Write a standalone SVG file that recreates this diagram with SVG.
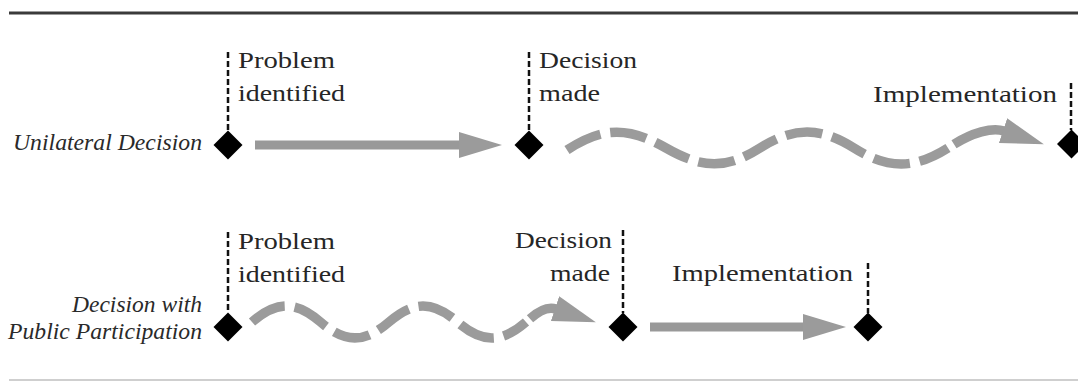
<svg xmlns="http://www.w3.org/2000/svg" width="1078" height="382" viewBox="0 0 1078 382">
<style>
.lbl{font-family:"Liberation Serif","Times New Roman",serif;font-size:24px;fill:#262626}
.row{font-family:"Liberation Serif","Times New Roman",serif;font-size:23px;font-style:italic;fill:#2a2a2a}
.tick{stroke:#111;stroke-width:2.5;stroke-dasharray:6 3;fill:none}
.dia{fill:#000}
.straight{stroke:#999;stroke-width:9;fill:none}
.wave{stroke:#9b9b9b;stroke-width:9.5;fill:none;stroke-dasharray:37 10}
.solid{stroke:#9b9b9b;stroke-width:9.5;fill:none}
</style>
<defs>
<marker id="head" markerUnits="userSpaceOnUse" viewBox="0 0 44 28" markerWidth="44" markerHeight="28" refX="1" refY="14" orient="auto">
<path d="M0,1 L43,14 L0,27 Z" fill="#9b9b9b"/>
</marker>
<polygon id="diamond" points="0,-14.5 14.5,0 0,14.5 -14.5,0"/>
</defs>
<rect width="1078" height="382" fill="#fff"/>
<line x1="9" y1="13" x2="1078" y2="13" stroke="#3a3a3a" stroke-width="3"/>
<line x1="9" y1="380" x2="1078" y2="380" stroke="#cfcfcf" stroke-width="2"/>

<g id="label-unilateral"><text class="row" x="202" y="150" text-anchor="end" textLength="189" lengthAdjust="spacingAndGlyphs">Unilateral Decision</text></g>
<g id="label-public">
<text class="row" x="202" y="312" text-anchor="end" textLength="130" lengthAdjust="spacingAndGlyphs">Decision with</text>
<text class="row" x="202" y="339" text-anchor="end" textLength="194" lengthAdjust="spacingAndGlyphs">Public Participation</text>
</g>

<g id="u-problem">
<line class="tick" x1="228" y1="52" x2="228" y2="131"/>
<use href="#diamond" class="dia" x="228" y="145"/>
<text class="lbl" x="238" y="68" textLength="97" lengthAdjust="spacingAndGlyphs">Problem</text>
<text class="lbl" x="238" y="101" textLength="107" lengthAdjust="spacingAndGlyphs">identified</text>
</g>
<g id="u-decision">
<line class="tick" x1="529" y1="52" x2="529" y2="131"/>
<use href="#diamond" class="dia" x="529" y="145"/>
<text class="lbl" x="539" y="68" textLength="98" lengthAdjust="spacingAndGlyphs">Decision</text>
<text class="lbl" x="539" y="101" textLength="61" lengthAdjust="spacingAndGlyphs">made</text>
</g>
<g id="u-implementation">
<line class="tick" x1="1071" y1="83" x2="1071" y2="130"/>
<use href="#diamond" class="dia" x="1071.5" y="144"/>
<text class="lbl" x="873" y="102" textLength="184" lengthAdjust="spacingAndGlyphs">Implementation</text>
</g>

<g id="p-problem">
<line class="tick" x1="228" y1="232" x2="228" y2="313"/>
<use href="#diamond" class="dia" x="228" y="327"/>
<text class="lbl" x="238" y="249" textLength="97" lengthAdjust="spacingAndGlyphs">Problem</text>
<text class="lbl" x="238" y="282" textLength="107" lengthAdjust="spacingAndGlyphs">identified</text>
</g>
<g id="p-decision">
<line class="tick" x1="623" y1="230" x2="623" y2="313"/>
<use href="#diamond" class="dia" x="623" y="327"/>
<text class="lbl" x="612" y="248" text-anchor="end" textLength="97" lengthAdjust="spacingAndGlyphs">Decision</text>
<text class="lbl" x="610" y="281" text-anchor="end" textLength="60" lengthAdjust="spacingAndGlyphs">made</text>
</g>
<g id="p-implementation">
<line class="tick" x1="868" y1="263" x2="868" y2="313"/>
<use href="#diamond" class="dia" x="868" y="327"/>
<text class="lbl" x="672" y="281" textLength="181" lengthAdjust="spacingAndGlyphs">Implementation</text>
</g>

<g id="connectors">
<line class="straight" x1="255" y1="145" x2="460" y2="145" marker-end="url(#head)"/>
<path class="wave" d="M567,150 c37,-24 62,-23 99,-2 s60.2,21.3 94,0 s60.2,-21.3 94,0 s60.2,21.3 94,0"/>
<path class="solid" d="M954,144.3 C972,133 992,127 1004,131" marker-end="url(#head)"/>
<path class="wave" d="M252,322 c24.7,-21.3 43.8,-21.3 68.5,0 s43.8,21.3 68.5,0 s43.8,-21.3 68.5,0 s43.8,21.3 68.5,0"/>
<path class="solid" d="M530,318.7 C538,311.6 547,306 556,309" marker-end="url(#head)"/>
<line class="straight" x1="650" y1="327" x2="804" y2="327" marker-end="url(#head)"/>
</g>
</svg>
